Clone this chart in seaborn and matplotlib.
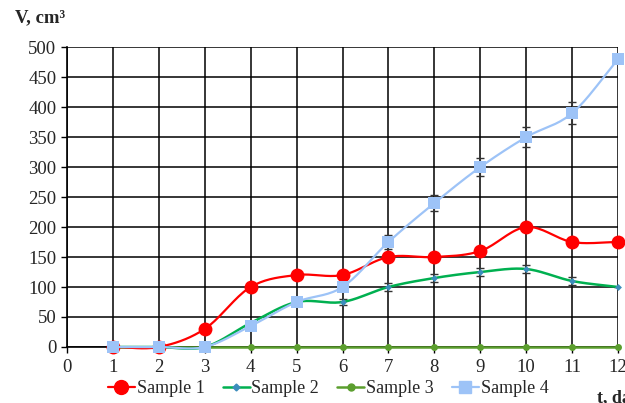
import numpy as np
import pandas as pd
import matplotlib
matplotlib.use("Agg")
import matplotlib.pyplot as plt
from matplotlib.lines import Line2D
import seaborn as sns

days = [1, 2, 3, 4, 5, 6, 7, 8, 9, 10, 11, 12]
sample1 = [0, 0, 30, 100, 120, 120, 150, 150, 160, 200, 175, 175]
sample2 = [0, 0, 0, 40, 75, 75, 100, 115, 125, 130, 110, 100]
sample3 = [0, 0, 0, 0, 0, 0, 0, 0, 0, 0, 0, 0]
sample4 = [0, 0, 0, 35, 75, 100, 175, 240, 300, 350, 390, 480]
err2 = [0, 0, 0, 4, 5, 5, 6, 6, 6, 6, 6, 0]
err4 = [0, 0, 0, 0, 0, 0, 12, 14, 15, 17, 18, 0]
names = ["Sample 1", "Sample 2", "Sample 3", "Sample 4"]


def smooth(x, y, n=20):
    # excel-like smoothed line (catmull-rom through the points)
    x = np.asarray(x, float)
    y = np.asarray(y, float)
    px = np.concatenate([[2 * x[0] - x[1]], x, [2 * x[-1] - x[-2]]])
    py = np.concatenate([[2 * y[0] - y[1]], y, [2 * y[-1] - y[-2]]])
    xs, ys = [], []
    t = np.linspace(0, 1, n)
    for i in range(1, len(px) - 2):
        for arr, out in ((px, xs), (py, ys)):
            p0, p1, p2, p3 = arr[i - 1], arr[i], arr[i + 1], arr[i + 2]
            c1 = p1 + (p2 - p0) / 6
            c2 = p2 - (p3 - p1) / 6
            out.extend((1 - t) ** 3 * p1 + 3 * (1 - t) ** 2 * t * c1
                       + 3 * (1 - t) * t ** 2 * c2 + t ** 3 * p2)
    return np.array(xs), np.array(ys)


sns.set_style("white")
plt.rcParams["font.family"] = ["Liberation Serif", "DejaVu Serif"]

fig = plt.figure(figsize=(6.25, 4.03), dpi=100)
ax = fig.add_axes([0.107, 0.139, 0.882, 0.744])

styles = {
    "Sample 1": dict(color="#FF0000", marker="o", ms=10, mfc="#FF0000", mec="#FF0000", lw=1.6),
    "Sample 2": dict(color="#00B050", marker="D", ms=3.5, mfc="#3C8DBC", mec="#3C8DBC", lw=1.8),
    "Sample 3": dict(color="#5B9E2E", marker="o", ms=5, mfc="#5B9E2E", mec="#5B9E2E", lw=1.8),
    "Sample 4": dict(color="#9DC3F7", marker="s", ms=8.5, mfc="#9DC3F7", mec="#9DC3F7", lw=1.6),
}
series = {"Sample 1": sample1, "Sample 2": sample2, "Sample 3": sample3, "Sample 4": sample4}

# error bars
ax.errorbar(days, sample2, yerr=err2, fmt="none", ecolor="#333333", elinewidth=0.8, capsize=3, zorder=2)
ax.errorbar(days, sample4, yerr=err4, fmt="none", ecolor="#333333", elinewidth=0.8, capsize=3, zorder=2)

order = ["Sample 3", "Sample 2", "Sample 1", "Sample 4"]
for k, name in enumerate(order):
    st = styles[name]
    sx, sy = smooth(days, series[name])
    df = pd.DataFrame({"day": sx, "v": sy})
    sns.lineplot(data=df, x="day", y="v", ax=ax, color=st["color"], lw=st["lw"],
                 sort=False, estimator=None, zorder=3 + k, clip_on=False)
    ax.plot(days, series[name], ls="none", marker=st["marker"], ms=st["ms"],
            mfc=st["mfc"], mec=st["mec"], mew=0, zorder=3.5 + k, clip_on=False)

ax.set_xlim(0, 12)
ax.set_ylim(0, 500)
ax.set_xticks(range(0, 13))
ax.set_yticks(range(0, 501, 50))
ax.grid(True, color="black", lw=1.1)
ax.set_axisbelow(True)
for s in ax.spines.values():
    s.set_visible(False)
ax.spines["left"].set_visible(True)
ax.spines["left"].set_color("black")
ax.spines["left"].set_linewidth(1.2)
ax.spines["bottom"].set_visible(True)
ax.spines["bottom"].set_color("black")
ax.spines["bottom"].set_linewidth(1.2)
ax.tick_params(axis="both", labelsize=13.5, length=4, width=1, color="black", direction="out",
               left=True, bottom=True)
ax.tick_params(axis="x", pad=5)
ax.set_xlabel("")
ax.set_ylabel("")

fig.text(0.024, 0.955, "V, cm³", fontsize=13.5, fontweight="bold", ha="left", va="center")
fig.text(0.955, 0.012, "t, day", fontsize=13, fontweight="bold", ha="left", va="center")

handles = []
for name in names:
    st = styles[name]
    handles.append(Line2D([], [], color=st["color"], lw=st["lw"], marker=st["marker"],
                          ms=st["ms"], mfc=st["mfc"], mec=st["mec"]))
fig.legend(handles, names, loc="center", bbox_to_anchor=(0.525, 0.035), ncol=4, frameon=False,
           fontsize=13, handlelength=1.5, handletextpad=0.1, columnspacing=1.0)

fig.savefig("out.png", dpi=100)
